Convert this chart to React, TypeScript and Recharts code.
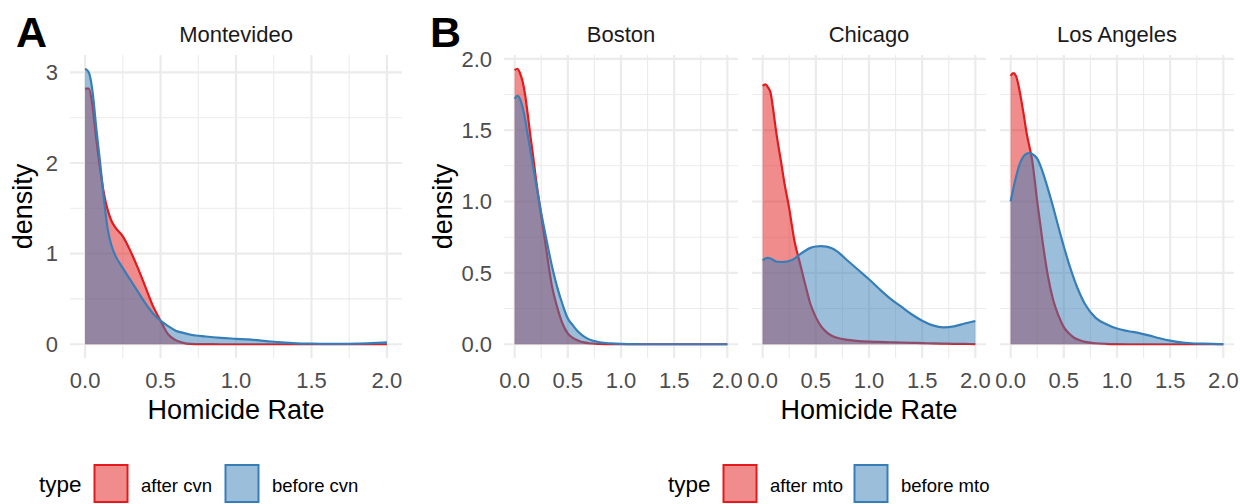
import React from 'react';
import { ComposedChart, Area, XAxis, YAxis, CartesianGrid } from 'recharts';

const RED = '#E41A1C';
const BLUE = '#377EB8';
const FONT = '"Liberation Sans", Arial, Helvetica, sans-serif';

// Homicide-rate grid shared by every panel
const rateGrid = [0, 0.025, 0.05, 0.075, 0.1, 0.125, 0.15, 0.175, 0.2, 0.25, 0.3, 0.35, 0.4, 0.45, 0.5, 0.55, 0.6, 0.65, 0.7, 0.8, 0.9, 1.0, 1.1, 1.2, 1.3, 1.4, 1.5, 1.6, 1.7, 1.8, 1.9, 2.0];

// Panel A: Montevideo
const montevideoAfter = [2.82, 2.82, 2.62, 2.25, 1.93, 1.66, 1.48, 1.36, 1.29, 1.19, 1.03, 0.84, 0.63, 0.42, 0.26, 0.11, 0.045, 0.015, 0.004, 0.001, 0, 0, 0, 0, 0, 0, 0, 0, 0, 0, 0, 0];
const montevideoBefore = [3.04, 3.0, 2.78, 2.37, 2.0, 1.6, 1.27, 1.09, 0.98, 0.84, 0.71, 0.58, 0.45, 0.34, 0.26, 0.2, 0.15, 0.125, 0.105, 0.085, 0.07, 0.06, 0.05, 0.035, 0.02, 0.01, 0.006, 0.004, 0.004, 0.006, 0.012, 0.02];

// Panel B
const bostonAfter = [1.92, 1.93, 1.9, 1.84, 1.74, 1.6, 1.45, 1.31, 1.16, 0.9, 0.65, 0.41, 0.26, 0.145, 0.075, 0.043, 0.025, 0.013, 0.007, 0.002, 0, 0, 0, 0, 0, 0, 0, 0, 0, 0, 0, 0];
const bostonBefore = [1.72, 1.74, 1.72, 1.66, 1.57, 1.46, 1.35, 1.24, 1.13, 0.92, 0.73, 0.55, 0.4, 0.28, 0.18, 0.13, 0.085, 0.055, 0.034, 0.014, 0.006, 0.002, 0.001, 0, 0, 0, 0, 0, 0, 0, 0, 0];
const chicagoAfter = [1.81, 1.82, 1.8, 1.76, 1.64, 1.5, 1.38, 1.27, 1.15, 0.95, 0.72, 0.57, 0.42, 0.28, 0.19, 0.125, 0.085, 0.06, 0.045, 0.03, 0.022, 0.018, 0.016, 0.014, 0.012, 0.01, 0.008, 0.006, 0.004, 0.003, 0.002, 0.001];
const chicagoBefore = [0.587, 0.6, 0.605, 0.6, 0.59, 0.58, 0.577, 0.576, 0.577, 0.583, 0.6, 0.63, 0.655, 0.675, 0.685, 0.688, 0.684, 0.672, 0.65, 0.585, 0.52, 0.455, 0.385, 0.32, 0.265, 0.21, 0.165, 0.132, 0.118, 0.125, 0.145, 0.163];
const losAngelesAfter = [1.88, 1.9, 1.88, 1.81, 1.71, 1.6, 1.48, 1.39, 1.3, 1.0, 0.72, 0.48, 0.31, 0.2, 0.12, 0.075, 0.044, 0.028, 0.016, 0.007, 0.003, 0.001, 0, 0, 0, 0, 0, 0, 0, 0, 0, 0];
const losAngelesBefore = [1.0, 1.09, 1.17, 1.24, 1.29, 1.32, 1.335, 1.34, 1.335, 1.3, 1.21, 1.09, 0.96, 0.82, 0.685, 0.56, 0.45, 0.355, 0.28, 0.185, 0.14, 0.11, 0.093, 0.08, 0.062, 0.042, 0.025, 0.013, 0.007, 0.004, 0.002, 0.001];

// Ticks
const xTicks = [0, 0.5, 1, 1.5, 2];
const xMinor = [0.25, 0.75, 1.25, 1.75];
const yTicksA = [0, 1, 2, 3];
const yMinorA = [0.5, 1.5, 2.5];
const yTicksB = [0, 0.5, 1, 1.5, 2];
const yMinorB = [0.25, 0.75, 1.25, 1.75];

// Labels
const facetA = ['Montevideo'];
const facetB = ['Boston', 'Chicago', 'Los Angeles'];
const legendA = ['after cvn', 'before cvn'];
const legendB = ['after mto', 'before mto'];
const legendTitle = 'type';
const xTitle = 'Homicide Rate';
const yTitle = 'density';

const CHART_H = 504;
const PLOT_TOP = 55;
const PLOT_H = 303;
const XAXIS_H = 60;

const expand = (vals: number[][]) => {
  const mx = Math.max(...vals.flat());
  return [-mx * 0.05, mx * 1.05];
};
const domainA = expand([montevideoAfter, montevideoBefore]);
const domainB = expand([bostonAfter, bostonBefore, chicagoAfter, chicagoBefore, losAngelesAfter, losAngelesBefore]);

type PanelProps = {
  left: number;
  width: number;
  plotLeft: number;
  plotWidth: number;
  after: number[];
  before: number[];
  yDomain: number[];
  yTicks: number[];
  yMinor: number[];
  yFormat: (v: number) => string;
  showY: boolean;
  showXTitle: boolean;
};

function Panel(p: PanelProps) {
  const data = rateGrid.map((x, i) => ({ x, after: p.after[i], before: p.before[i] }));
  const marginLeft = p.showY ? 0 : p.plotLeft;
  const marginRight = p.width - p.plotLeft - p.plotWidth;
  return (
    <div style={{ position: 'absolute', left: p.left, top: 0 }}>
      <ComposedChart
        width={p.width}
        height={CHART_H}
        data={data}
        margin={{ top: PLOT_TOP, right: marginRight, bottom: CHART_H - PLOT_TOP - PLOT_H - XAXIS_H, left: marginLeft }}
      >
        <CartesianGrid verticalValues={xMinor} horizontalValues={p.yMinor} stroke="#EBEBEB" strokeWidth={1.1} />
        <CartesianGrid verticalValues={xTicks} horizontalValues={p.yTicks} stroke="#EBEBEB" strokeWidth={2.2} />
        <XAxis
          type="number"
          dataKey="x"
          domain={[-0.1, 2.1]}
          ticks={xTicks}
          interval={0}
          height={XAXIS_H}
          axisLine={false}
          tickLine={false}
          tickSize={0}
          tickMargin={14}
          tick={{ fill: '#4D4D4D', fontSize: 22 }}
          tickFormatter={(v: number) => v.toFixed(1)}
          label={p.showXTitle ? { value: xTitle, position: 'insideBottom', offset: -1, fill: '#000000', fontSize: 27 } : undefined}
        />
        <YAxis
          type="number"
          domain={p.yDomain}
          ticks={p.yTicks}
          interval={0}
          hide={!p.showY}
          width={p.showY ? p.plotLeft : 0}
          axisLine={false}
          tickLine={false}
          tickSize={0}
          tickMargin={12}
          tick={{ fill: '#4D4D4D', fontSize: 22 }}
          tickFormatter={p.yFormat}
          label={p.showY ? { value: yTitle, angle: -90, position: 'insideLeft', offset: 22, fill: '#000000', fontSize: 27, style: { textAnchor: 'middle' } } : undefined}
        />
        <Area type="monotone" dataKey="after" baseValue={0} stroke={RED} strokeWidth={2.2} fill={RED} fillOpacity={0.5} isAnimationActive={false} dot={false} activeDot={false} />
        <Area type="monotone" dataKey="before" baseValue={0} stroke={BLUE} strokeWidth={2.2} fill={BLUE} fillOpacity={0.5} isAnimationActive={false} dot={false} activeDot={false} />
      </ComposedChart>
    </div>
  );
}

function LegendRow({ x, labels }: { x: number; labels: string[] }) {
  const colors = [RED, BLUE];
  const offs = [55, 186];
  const textOffs = [102, 233];
  return (
    <g>
      <text x={x} y={492} fontSize={22.5} fill="#000">{legendTitle}</text>
      {labels.map((lab, i) => (
        <g key={lab}>
          <rect x={x + offs[i] + 0.5} y={465} width={33} height={37} fill={colors[i]} fillOpacity={0.5} stroke={colors[i]} strokeWidth={2} />
          <text x={x + textOffs[i]} y={492} fontSize={18.5} fill="#000">{lab}</text>
        </g>
      ))}
    </g>
  );
}

export default function App() {
  const fmtA = (v: number) => String(v);
  const fmtB = (v: number) => v.toFixed(1);
  const stripCentersB = [621, 869, 1117];
  return (
    <div style={{ position: 'absolute', left: 0, top: 0, width: 1240, height: 504, background: '#fff', fontFamily: FONT, overflow: 'hidden' }}>
      <svg width={1240} height={504} style={{ position: 'absolute', left: 0, top: 0 }}>
        <text x={16} y={47} fontSize={43} fontWeight="bold" fill="#000">A</text>
        <text x={430} y={47} fontSize={43} fontWeight="bold" fill="#000">B</text>
        <text x={236} y={42} fontSize={22} fill="#1A1A1A" textAnchor="middle">{facetA[0]}</text>
        {facetB.map((f, i) => (
          <text key={f} x={stripCentersB[i]} y={42} fontSize={22} fill="#1A1A1A" textAnchor="middle">{f}</text>
        ))}
        <LegendRow x={39} labels={legendA} />
        <LegendRow x={668} labels={legendB} />
      </svg>
      <Panel left={0} width={420} plotLeft={70} plotWidth={332} after={montevideoAfter} before={montevideoBefore} yDomain={domainA} yTicks={yTicksA} yMinor={yMinorA} yFormat={fmtA} showY={true} showXTitle={true} />
      <Panel left={420} width={322} plotLeft={84} plotWidth={234} after={bostonAfter} before={bostonBefore} yDomain={domainB} yTicks={yTicksB} yMinor={yMinorB} yFormat={fmtB} showY={true} showXTitle={false} />
      <Panel left={742} width={250} plotLeft={10} plotWidth={234} after={chicagoAfter} before={chicagoBefore} yDomain={domainB} yTicks={yTicksB} yMinor={yMinorB} yFormat={fmtB} showY={false} showXTitle={true} />
      <Panel left={992} width={248} plotLeft={8} plotWidth={234} after={losAngelesAfter} before={losAngelesBefore} yDomain={domainB} yTicks={yTicksB} yMinor={yMinorB} yFormat={fmtB} showY={false} showXTitle={false} />
    </div>
  );
}
